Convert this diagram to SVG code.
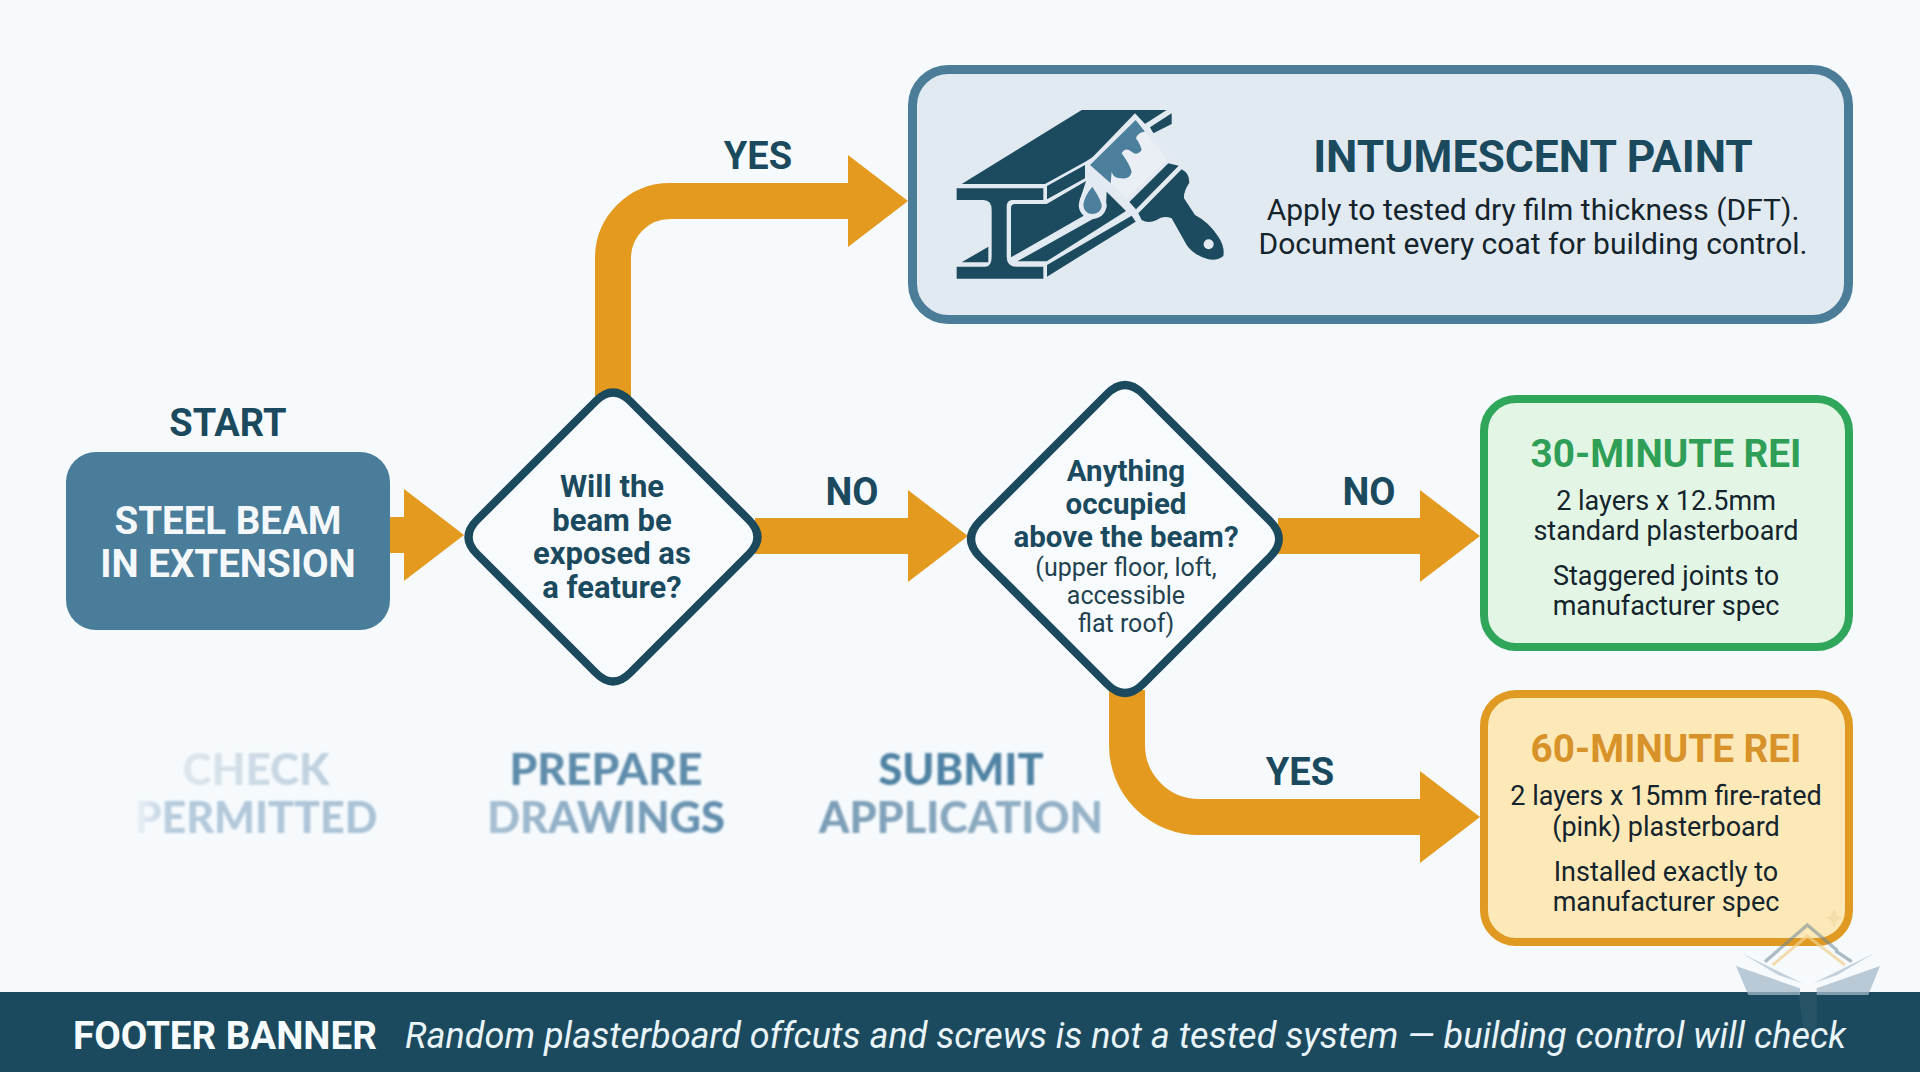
<svg xmlns="http://www.w3.org/2000/svg" width="1920" height="1072" viewBox="0 0 1920 1072">
<defs>
<marker id="head" markerUnits="userSpaceOnUse" markerWidth="60" markerHeight="92" viewBox="0 0 60 92" refX="0" refY="46" orient="auto"><path d="M0 0L60 46L0 92Z" fill="#e39a1f"/></marker>
<linearGradient id="gCheck" gradientUnits="userSpaceOnUse" x1="181" y1="0" x2="330" y2="0"><stop offset="0" stop-color="#dfe7ee"/><stop offset="1" stop-color="#bccfdd"/></linearGradient>
<linearGradient id="gPerm" gradientUnits="userSpaceOnUse" x1="135" y1="0" x2="378" y2="0"><stop offset="0" stop-color="#eef3f8"/><stop offset="0.15" stop-color="#b6cbdc"/><stop offset="1" stop-color="#aac2d6"/></linearGradient>
<linearGradient id="gDraw" gradientUnits="userSpaceOnUse" x1="488" y1="0" x2="725" y2="0"><stop offset="0" stop-color="#a9c0d3"/><stop offset="1" stop-color="#5f8cab"/></linearGradient>
<linearGradient id="gAppl" gradientUnits="userSpaceOnUse" x1="820" y1="0" x2="1103" y2="0"><stop offset="0" stop-color="#7b9db6"/><stop offset="1" stop-color="#98b4c9"/></linearGradient>
<filter id="soft" x="-5%" y="-5%" width="110%" height="110%"><feGaussianBlur stdDeviation="0.8"/></filter>
</defs>
<style>
text{font-family:Roboto,"Liberation Sans",sans-serif;text-anchor:middle}
.lbl{font-size:38px;font-weight:700;fill:#1b4a5e}
.flow{fill:none;stroke:#e39a1f;stroke-width:36}
.dia{fill:#f8fbfe;stroke:#1b4a5e;stroke-width:8}
.dt{font-size:31px;font-weight:700;fill:#1b4a5e}
.dt2{font-size:29.500px;font-weight:700;fill:#1b4a5e}
.dn{font-size:25px;fill:#22414f}
.body{font-size:30px;fill:#14242c}
.small{font-size:27px;fill:#14242c}
.ghost{font-family:Lato,Inter,sans-serif;font-size:44px;font-weight:900;filter:url(#soft)}
.ink{fill:#1c4a5f}
.pale{fill:#e3eaf1}
.paint{fill:#4b7f9c}
</style>
<rect width="1920" height="1072" fill="#f6fafd"/>

<g id="connectors">
<path class="flow" d="M385 535H404" marker-end="url(#head)"/>
<path class="flow" d="M613 400V258A57 57 0 0 1 670 201H848" marker-end="url(#head)"/>
<path class="flow" d="M755 536H908" marker-end="url(#head)"/>
<path class="flow" d="M1278 536H1420" marker-end="url(#head)"/>
<path class="flow" d="M1127 690V745A72 72 0 0 0 1199 817H1420" marker-end="url(#head)"/>
</g>

<g id="intumescent">
<rect x="912.500" y="69.500" width="936" height="250" rx="36" fill="#e2eaf1" stroke="#4c7d98" stroke-width="9"/>
<g id="icon" transform="translate(900 50) scale(0.33333)">
<path class="ink" d="M185 402L545 180H800L750 212L556 335L435 402Z"/>
<path class="ink" d="M170 415H430V450H335Q320 452 320 470V620Q320 650 350 650H430V686H170V650H255Q275 650 275 620V480Q275 450 250 450H170Z"/>
<path class="ink" d="M441 408L555 345V385L441 448Z"/>
<path class="ink" d="M333 475Q333 462 345 462H440L558 393L540 450Q535 475 555 495L333 622Z"/>
<path class="ink" d="M441 645L695 497L707 515L441 680Z"/>
<path class="ink" d="M185 637L265 590V637Z"/>
<path class="ink" d="M750 232L815 190V222L760 250Z"/>
<path class="pale" d="M555 345L705 190L850 345L705 495Z"/>
<path class="ink" d="M352 634L583 505Q610 500 618 470L620 425L678 483L440 634Z"/>
<path class="ink" d="M688 456L805 340L836 347L708 478Z"/>
<path d="M570 345L707 210L802 328L680 445Z" fill="#e9eff4"/>
<path class="paint" d="M570 345L707 210L735 245Q715 245 708 265Q722 285 725 300Q710 320 695 305Q675 290 665 310Q690 345 695 365Q690 388 665 385Q640 385 635 365L632 400Z"/>
<path class="ink" d="M845 358Q868 370 868 398Q850 425 852 445L885 495Q925 515 955 560Q975 590 970 618Q955 632 925 628Q880 615 860 585L815 505Q790 495 770 510Q745 522 725 510L715 490Z"/>
<circle cx="926" cy="583" r="15" fill="#e3eaf1"/>
<path d="M577 388Q622 450 620 470Q612 505 575 507Q538 500 536 465Q540 430 577 388Z" fill="#e3eaf1"/>
<path class="paint" d="M577 410Q607 455 605 470Q600 492 575 492Q552 490 550 465Q552 440 577 410Z"/>
</g>
<text x="1533" y="172" font-size="44.400" font-weight="700" fill="#1b4a5e">INTUMESCENT PAINT</text>
<text class="body" x="1533" y="220">Apply to tested dry film thickness (DFT).</text>
<text class="body" x="1533" y="254">Document every coat for building control.</text>
</g>

<g id="start">
<text class="lbl" x="228" y="436">START</text>
<rect x="66" y="452" width="324" height="178" rx="30" fill="#4a7d9a"/>
<text x="228" y="534" font-size="38.500" font-weight="700" fill="#f4f8fb">STEEL BEAM</text>
<text x="228" y="577" font-size="38.500" font-weight="700" fill="#f4f8fb">IN EXTENSION</text>
</g>

<g id="decision-feature">
<path class="dia" d="M596 401Q613 384 630 401L749 520Q766 537 749 554L630 673Q613 690 596 673L477 554Q460 537 477 520Z"/>
<text class="dt" x="612" y="497">Will the</text>
<text class="dt" x="612" y="531">beam be</text>
<text class="dt" x="612" y="564">exposed as</text>
<text class="dt" x="612" y="598">a feature?</text>
</g>

<g id="decision-occupied">
<path class="dia" d="M1107 394Q1125 376 1143 394L1270 521Q1288 539 1270 557L1143 684Q1125 702 1107 684L980 557Q962 539 980 521Z"/>
<text class="dt2" x="1126" y="481">Anything</text>
<text class="dt2" x="1126" y="514">occupied</text>
<text class="dt2" x="1126" y="547">above the beam?</text>
<text class="dn" x="1126" y="576">(upper floor, loft,</text>
<text class="dn" x="1126" y="604">accessible</text>
<text class="dn" x="1126" y="632">flat roof)</text>
</g>

<g id="edge-labels">
<text class="lbl" x="758" y="169">YES</text>
<text class="lbl" x="852" y="505">NO</text>
<text class="lbl" x="1369" y="505">NO</text>
<text class="lbl" x="1300" y="785">YES</text>
</g>

<g id="rei-30">
<rect x="1484" y="399" width="365" height="248" rx="32" fill="#e3f6e6" stroke="#2fa65a" stroke-width="8"/>
<text x="1666" y="467" font-size="38.700" font-weight="700" fill="#2f9e57">30-MINUTE REI</text>
<text class="small" x="1666" y="510">2 layers x 12.5mm</text>
<text class="small" x="1666" y="540">standard plasterboard</text>
<text class="small" x="1666" y="585">Staggered joints to</text>
<text class="small" x="1666" y="615">manufacturer spec</text>
</g>

<g id="rei-60">
<rect x="1484" y="694" width="365" height="248" rx="32" fill="#fde9b8" stroke="#e09a22" stroke-width="8"/>
<text x="1666" y="762" font-size="38.700" font-weight="700" fill="#d8922a">60-MINUTE REI</text>
<text class="small" x="1666" y="805">2 layers x 15mm fire-rated</text>
<text class="small" x="1666" y="836">(pink) plasterboard</text>
<text class="small" x="1666" y="881">Installed exactly to</text>
<text class="small" x="1666" y="911">manufacturer spec</text>
</g>

<g id="ghost-steps">
<text class="ghost" x="256" y="785" fill="url(#gCheck)" textLength="147" lengthAdjust="spacingAndGlyphs">CHECK</text>
<text class="ghost" x="256" y="833" fill="url(#gPerm)" textLength="243" lengthAdjust="spacingAndGlyphs">PERMITTED</text>
<text class="ghost" x="606" y="785" fill="#5f8cab" textLength="193" lengthAdjust="spacingAndGlyphs">PREPARE</text>
<text class="ghost" x="606" y="833" fill="url(#gDraw)" textLength="238" lengthAdjust="spacingAndGlyphs">DRAWINGS</text>
<text class="ghost" x="961" y="785" fill="#4f82a3" textLength="165" lengthAdjust="spacingAndGlyphs">SUBMIT</text>
<text class="ghost" x="961" y="833" fill="url(#gAppl)" textLength="284" lengthAdjust="spacingAndGlyphs">APPLICATION</text>
</g>

<g id="footer">
<rect y="992" width="1920" height="80" fill="#1b4a5e"/>
<text x="73" y="1049" font-size="38.500" font-weight="700" fill="#f6fbfe" style="text-anchor:start">FOOTER BANNER</text>
<text x="405" y="1048" font-size="36" font-style="italic" fill="#e8f4fa" style="text-anchor:start" textLength="1441">Random plasterboard offcuts and screws is not a tested system — building control will check</text>
</g>

<g id="watermark" transform="translate(1680 900) scale(0.33333)">
<path d="M168 198L360 265V285H205Z M600 198L410 265V285H565Z" fill="#a4b8c8" opacity="0.75"/>
<path d="M185 160L368 250L295 225Z M582 160L400 250L472 225Z" fill="#b5c6d3" opacity="0.8"/>
<path d="M255 185L382 75L470 150V155L515 185" fill="none" stroke="#6d8798" stroke-width="10" opacity="0.55"/>
<path d="M278 195L382 108L495 195" fill="none" stroke="#f0cf8c" stroke-width="9" opacity="0.7"/>
<path d="M462 25L472 48L490 53L472 60L462 82L452 60L435 53L452 48Z" fill="#f1d9a4" opacity="0.8"/>
<path d="M355 275H410V390L395 392H370Z" fill="#ffffff" opacity="0.05"/>
</g>
</svg>
